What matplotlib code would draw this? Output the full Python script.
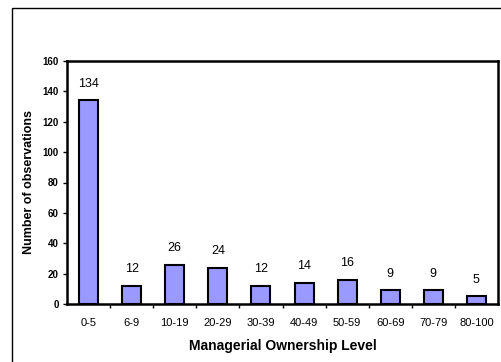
import matplotlib.pyplot as plt
import matplotlib.patches as patches
import numpy as np

categories = ['0-5', '6-9', '10-19', '20-29', '30-39', '40-49', '50-59', '60-69', '70-79', '80-100']
counts = [134, 12, 26, 24, 12, 14, 16, 9, 9, 5]
y_ticks = [0, 20, 40, 60, 80, 100, 120, 140, 160]

plt.rcParams['font.family'] = 'Liberation Sans'

W, H = 501, 362
fig = plt.figure(figsize=(W / 100, H / 100), dpi=100)

# outer chart border (runs off the right and bottom edge)
fig.patches.append(patches.Rectangle((12 / W, 1 - 8 / H), 2, -2, transform=fig.transFigure,
                                     fill=False, edgecolor='black', linewidth=1.0))

ax = fig.add_axes([67 / W, 1 - 304 / H, (498 - 67) / W, (304 - 61) / H])

x = np.arange(len(categories))
ax.bar(x, counts, width=0.44, color='#9999FF', edgecolor='black', linewidth=1.5, zorder=3)

for xi, c in zip(x, counts):
    ax.text(xi, c + 7, str(c), ha='center', va='bottom', fontsize=9)

ax.set_xlim(-0.5, len(categories) - 0.5)
ax.set_ylim(0, 160)
ax.set_yticks(y_ticks)
ax.set_yticklabels([str(v) for v in y_ticks], fontsize=7, fontweight='bold')

ax.set_xticks(x)
ax.set_xticklabels(categories, fontsize=8)
ax.tick_params(axis='x', length=0, pad=10)
ax.set_xticks(np.arange(0.5, len(categories) - 0.5, 1), minor=True)
ax.tick_params(axis='x', which='minor', length=3, width=1, direction='out')
ax.tick_params(axis='y', length=3, width=1, direction='out', pad=3)

for s in ax.spines.values():
    s.set_linewidth(1.8)

ax.set_xlabel('Managerial Ownership Level', fontsize=10, fontweight='bold', labelpad=8)
ax.set_ylabel('Number of observations', fontsize=9, fontweight='bold', labelpad=5)

fig.savefig('out.png', dpi=100)
